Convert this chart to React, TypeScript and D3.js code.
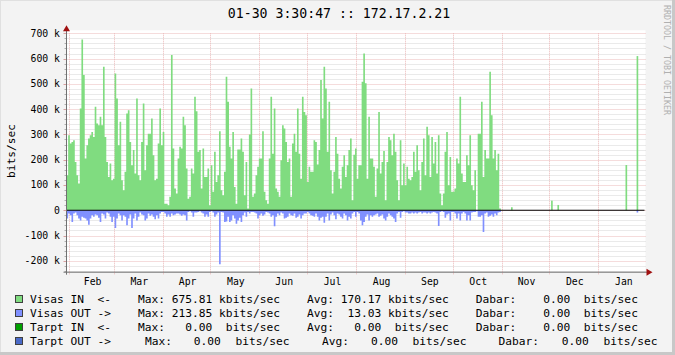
import React from 'react';
import * as d3 from 'd3';

// ---------- data (kbit/s) ----------
const START = new Date(2010, 0, 30, 3, 30, 47);
const END = new Date(2011, 0, 30, 3, 30, 47);
const STEP_DAYS = 1.047;

const visasIn: number[] = [
  139, 297, 264, 270, 277, 191, 139, 106, 403, 675.81, 535, 205, 257, 284, 297, 310, 290, 409, 343, 336,
  370, 336, 568, 290, 191, 132, 185, 119, 125, 541, 442, 257, 350, 119, 79, 152, 383, 396, 270, 178,
  238, 145, 442, 139, 119, 270, 422, 158, 257, 303, 303, 363, 218, 119, 125, 264, 403, 257, 310, 26,
  26, 20, 53, 614, 244, 86, 66,
  205, 251, 244, 370, 336, 165, 46, 53, 165, 145, 449, 392, 231, 238, 86, 244, 132, 132, 165, 20,
  178, 73, 231, 112, 139, 313, 79, 59, 152, 528, 429, 251, 205, 310, 92, 26, 240, 240, 284, 231,
  59, 191, 7, 300, 482, 53, 66, 139, 172, 205, 205, 313, 73, 40, 26, 205, 449, 224, 403, 86,
  73, 53, 198, 336, 323, 270,
  191, 205, 53, 264, 303, 231, 403, 224, 125, 449, 389, 376, 112, 172, 152, 152, 277, 270, 181,
  238, 515, 363, 568, 482, 231, 429, 158, 66, 152, 290, 224, 125, 86, 172, 218, 132, 178, 238, 284,
  40, 220, 244, 125, 178, 178, 508, 620, 502, 125, 370, 205, 205, 172, 53, 165, 389, 145, 191, 234,
  40, 191, 290, 277, 218, 303,
  231, 119, 40, 277, 99, 185, 99, 172, 125, 119, 132, 231, 152, 257, 158, 79, 191, 284, 139, 330,
  297, 132, 290, 185, 270, 145, 297, 66, 20, 66, 231, 310, 99, 211, 73, 73, 86, 205, 185, 449,
  145, 112, 112, 218, 178, 297, 99, 79, 158, 0, 303, 303, 429, 132, 238, 205, 205, 548, 376, 205,
  238, 158, 224, 7,
];

const visasOut: number[] = [
  33, 13, 20, 46, 13, 9, 20, 33, 40, 26, 30, 33, 40, 57, 33, 20, 26, 17, 20, 30,
  46, 13, 17, 33, 9, 13, 26, 46, 26, 70, 33, 13, 20, 40, 20, 26, 59, 33, 17, 70,
  33, 13, 40, 26, 9, 17, 20, 40, 33, 13, 22, 17, 26, 36, 20, 33, 13, 7, 7, 13,
  26, 17, 26, 13, 20, 17, 13,
  13, 17, 22, 17, 20, 40, 7, 4, 9, 26, 9, 9, 7, 4, 9, 13, 26, 17, 26, 7,
  4, 9, 26, 17, 9, 213.85, 7, 9, 46, 44, 26, 46, 40, 20, 33, 53, 40, 30, 46, 20,
  9, 26, 7, 13, 7, 7, 9, 13, 33, 20, 13, 22, 17, 7, 9, 13, 26, 20, 63, 26,
  13, 20, 9, 13, 33, 30,
  26, 13, 20, 22, 13, 30, 26, 17, 33, 20, 13, 13, 7, 13, 20, 22, 26, 13, 26,
  40, 30, 26, 49, 26, 13, 40, 17, 9, 20, 36, 13, 17, 26, 33, 13, 20, 40, 26, 33,
  13, 7, 26, 7, 13, 40, 59, 46, 26, 17, 40, 20, 26, 20, 17, 13, 26, 22, 17, 33,
  40, 26, 13, 20, 26, 33,
  46, 13, 7, 30, 7, 4, 9, 9, 13, 13, 9, 13, 9, 13, 9, 7, 13, 9, 9, 13,
  9, 13, 9, 7, 9, 13, 62, 7, 4, 7, 30, 17, 13, 40, 7, 7, 13, 33, 13, 40,
  13, 7, 13, 40, 20, 40, 9, 7, 7, 4, 26, 26, 20, 86, 13, 9, 26, 22, 17, 26,
  13, 20, 9, 7,
];

// sparse samples after the main run (day offset from START)
const lateDays = [280.7, 306, 310, 353, 360];
const lateIn = [12, 38, 21, 179, 610];
const lateOut = [0, 0, 0, 0, 9];

const yTicks = [-200, -100, 0, 100, 200, 300, 400, 500, 600, 700];
const monthNames = ['Feb', 'Mar', 'Apr', 'May', 'Jun', 'Jul', 'Aug', 'Sep', 'Oct', 'Nov', 'Dec', 'Jan'];

const title = '01-30 3:30:47 :: 172.17.2.21';
const legendNames = ['Visas IN  <-', 'Visas OUT ->', 'Tarpt IN  <-', 'Tarpt OUT ->'];
const legendColors = ['#80dc80', '#8090ff', '#00a000', '#4a6ac8'];
const legendRows = [
  'Visas IN  <-    Max: 675.81 kbits/sec    Avg: 170.17 kbits/sec    Dabar:    0.00  bits/sec',
  'Visas OUT ->    Max: 213.85 kbits/sec    Avg:  13.03 kbits/sec    Dabar:    0.00  bits/sec',
  'Tarpt IN  <-    Max:   0.00  bits/sec    Avg:   0.00  bits/sec    Dabar:    0.00  bits/sec',
];
const lastRowParts = ['Tarpt OUT ->', 'Max:', '0.00', 'bits/sec', 'Avg:', '0.00', 'bits/sec', 'Dabar:', '0.00', 'bits/sec'];
const lastRowX = [30, 145, 193.7, 235.5, 322, 371, 412.4, 498.5, 561.8, 603.5];

// ---------- layout ----------
const W = 675, H = 355;
const X0 = 66.5, X1 = 644.5;
const YB = 271.7, YT = 33.3;
const MONO = "'DejaVu Sans Mono', monospace";

const DAY = 86400000;

export default function App() {
  const x = d3.scaleTime().domain([START, END]).range([X0, X1]);
  const y = d3.scaleLinear().domain([-243, 700]).range([YB, YT]);
  const t = (d: number) => new Date(START.getTime() + d * DAY);

  const mkPts = (vals: number[], sign: number) => {
    const pts: [Date, number][] = vals.map((v, i) => [t(i * STEP_DAYS), sign * v]);
    pts.push([t(vals.length * STEP_DAYS), sign * vals[vals.length - 1]]);
    return pts;
  };
  const area = d3.area<[Date, number]>()
    .x(d => x(d[0]))
    .y0(y(0))
    .y1(d => y(d[1]))
    .curve(d3.curveStepAfter);

  const months = d3.timeMonth.range(START, END);
  const labelPos = months.map(m => {
    const next = d3.timeMonth.offset(m, 1);
    return (x(m) + x(next)) / 2;
  });

  const minor = d3.range(-240, 701, 20);
  const y0 = y(0);
  const py = (v: number) => Math.round(y(v)) + 0.5;

  return (
    <svg width={W} height={H} style={{ position: 'absolute', left: 0, top: 0 }} xmlns="http://www.w3.org/2000/svg">
      <rect x={0} y={0} width={W} height={H} fill="#f3f3f3" />
      <rect x={X0} y={YT - 3} width={X1 - X0 + 1} height={YB - YT + 3} fill="#ffffff" />

      {/* minor horizontal grid */}
      {minor.filter(v => v % 100 !== 0).map(v => (
        <g key={'m' + v}>
          <line x1={X0} x2={X1 + 1} y1={py(v)} y2={py(v)} stroke="#d4d4d4" strokeDasharray="1,1" />
          <line x1={X0 - 2} x2={X0} y1={py(v)} y2={py(v)} stroke="#b0b0b0" />
        </g>
      ))}
      {/* major horizontal grid */}
      {yTicks.map(v => (
        <g key={'M' + v}>
          <line x1={X0} x2={X1 + 1} y1={py(v)} y2={py(v)} stroke="#ebb8b8" strokeDasharray="1,1" />
          <line x1={X0 - 3} x2={X0} y1={py(v)} y2={py(v)} stroke="#d8a0a0" />
        </g>
      ))}
      {/* vertical month grid */}
      {months.map((m, i) => (
        <line key={'v' + i} x1={Math.round(x(m)) + 0.5} x2={Math.round(x(m)) + 0.5} y1={YT} y2={YB + 3}
          stroke="#ebb8b8" strokeDasharray="1,1" />
      ))}

      {/* data */}
      <path d={area(mkPts(visasIn, 1)) || ''} fill="#80dc80" />
      <path d={area(mkPts(visasOut, -1)) || ''} fill="#8090ff" />
      {lateDays.map((d, i) => (
        <g key={'l' + i}>
          {lateIn[i] > 0 && (
            <rect x={x(t(d))} width={x(t(d + STEP_DAYS)) - x(t(d))} y={y(lateIn[i])} height={y0 - y(lateIn[i])} fill="#80dc80" />
          )}
          {lateOut[i] > 0 && (
            <rect x={x(t(d))} width={x(t(d + STEP_DAYS)) - x(t(d))} y={y0} height={y(-lateOut[i]) - y0} fill="#8090ff" />
          )}
        </g>
      ))}

      {/* zero line */}
      <line x1={X0} x2={X1} y1={y0} y2={y0} stroke="#000" strokeWidth={1.2} />

      {/* axes */}
      <line x1={X0 - 3} x2={X1 + 3} y1={YB + 0.5} y2={YB + 0.5} stroke="#707070" />
      <line x1={X0} x2={X0} y1={YB + 3} y2={YT - 4} stroke="#707070" />
      <path d={`M${X0 - 3.5},${YT - 2} L${X0 + 3.5},${YT - 2} L${X0},${YT - 8} Z`} fill="#a01010" />
      <path d={`M${X1 + 2},${YB - 3} L${X1 + 2},${YB + 4} L${X1 + 8},${YB + 0.5} Z`} fill="#a01010" />

      {/* y labels */}
      {yTicks.map(v => (
        <text key={'yl' + v} x={60} y={y(v) + 3.5} textAnchor="end" fontFamily={MONO} fontSize={9.8} fill="#000">
          {v === 0 ? '0' : `${v} k`}
        </text>
      ))}
      {/* x labels */}
      {monthNames.map((n, i) => (
        <text key={'xl' + i} x={labelPos[i] + 1} y={285} textAnchor="middle" fontFamily={MONO} fontSize={9.8} fill="#000">
          {n}
        </text>
      ))}

      {/* title */}
      <text x={339} y={18.3} textAnchor="middle" fontFamily={MONO} fontSize={13.2} fill="#000">{title}</text>

      {/* y-axis title */}
      <text transform="translate(15,151) rotate(-90)" textAnchor="middle" fontFamily={MONO} fontSize={11.2} fill="#000">bits/sec</text>

      {/* watermark */}
      <text transform="translate(664,5) rotate(90)" fontFamily={MONO} fontSize={8.3} fill="#b0b0b0">RRDTOOL / TOBI OETIKER</text>

      {/* legend */}
      {legendNames.map((n, i) => (
        <rect key={'lb' + i} x={15.5} y={295.5 + i * 14} width={7} height={7} fill={legendColors[i]} stroke="#404040" />
      ))}
      {legendRows.map((r, i) => (
        <text key={'lr' + i} x={30} y={303 + i * 14} fontFamily={MONO} fontSize={11.23} fill="#000" style={{ whiteSpace: 'pre' }}>
          {r}
        </text>
      ))}
      {lastRowParts.map((p, i) => (
        <text key={'lp' + i} x={lastRowX[i]} y={303 + 3 * 14} fontFamily={MONO} fontSize={11.23} fill="#000" style={{ whiteSpace: 'pre' }}>
          {p}
        </text>
      ))}

      {/* frame */}
      <line x1={0} x2={W} y1={0.5} y2={0.5} stroke="#e0e0e0" />
      <line x1={0.5} x2={0.5} y1={0} y2={H} stroke="#e0e0e0" />
      <rect x={W - 3} y={0} width={3} height={H} fill="#c8c8c8" />
      <rect x={0} y={H - 3} width={W} height={3} fill="#c8c8c8" />
    </svg>
  );
}
